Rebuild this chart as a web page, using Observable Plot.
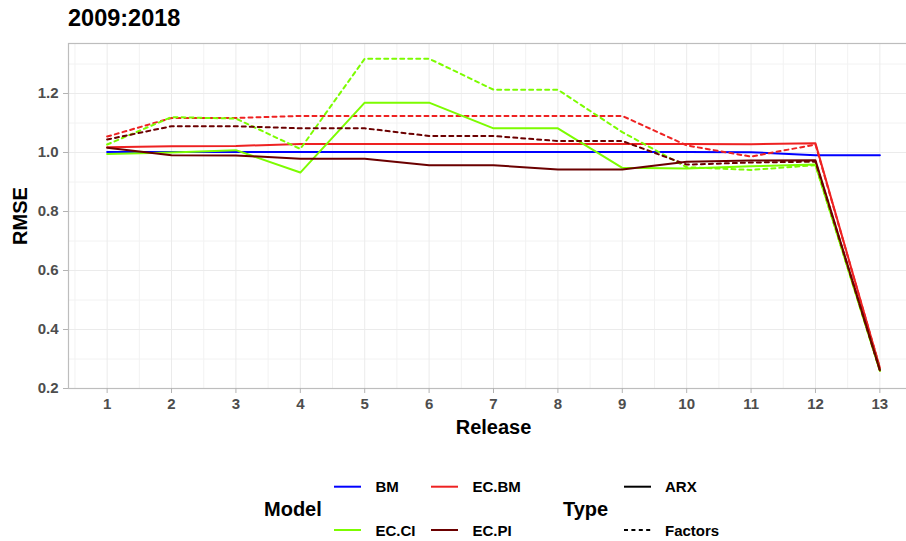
<!DOCTYPE html>
<html>
<head>
<meta charset="utf-8">
<script src="https://cdn.jsdelivr.net/npm/d3@7"></script>
<script src="https://cdn.jsdelivr.net/npm/@observablehq/plot@0.6"></script>
<style>
  body { margin: 0; background: #fff; }
  #wrap { position: relative; width: 906px; height: 541px; overflow: hidden;
          font-family: "Liberation Sans", Arial, Helvetica, sans-serif; }
  #title { position: absolute; left: 68px; top: 7px; font-size: 23.5px; line-height: 23.5px;
           font-weight: bold; color: #000; }
  #chart { position: absolute; left: 0; top: 36px; }
  #legend { position: absolute; left: 0; top: 445px; }
  g[aria-label="x-axis tick label"], g[aria-label="y-axis tick label"] {
    font-size: 15px; font-weight: bold; fill: #4d4d4d;
  }
  g[aria-label="x-axis label"], g[aria-label="y-axis label"] {
    font-size: 20px; font-weight: bold; fill: #000;
  }
</style>
</head>
<body>
<div id="wrap">
  <div id="title">2009:2018</div>
  <div id="chart"></div>
  <svg id="legend" width="906" height="96"></svg>
</div>
<script>
// Forecast releases on the x axis
const releases = [1, 2, 3, 4, 5, 6, 7, 8, 9, 10, 11, 12, 13];

// RMSE by release, one array per model / type combination
const bmArx       = [1.002, 1.002, 1.002, 1.002, 1.002, 1.002, 1.002, 1.002, 1.002, 1.002, 1.001, 0.991, 0.991];
const ecbmArx     = [1.018, 1.021, 1.022, 1.029, 1.029, 1.029, 1.029, 1.029, 1.029, 1.029, 1.028, 1.031, 0.270];
const ecbmFactors = [1.054, 1.117, 1.117, 1.124, 1.124, 1.124, 1.124, 1.124, 1.124, 1.024, 0.986, 1.027, 0.270];
const ecciArx     = [0.995, 1.000, 1.008, 0.932, 1.169, 1.169, 1.082, 1.082, 0.948, 0.946, 0.953, 0.959, 0.260];
const ecciFactors = [1.027, 1.120, 1.115, 1.012, 1.318, 1.318, 1.213, 1.213, 1.069, 0.950, 0.941, 0.957, 0.260];
const ecpiArx     = [1.016, 0.991, 0.990, 0.979, 0.979, 0.957, 0.957, 0.942, 0.942, 0.969, 0.973, 0.974, 0.262];
const ecpiFactors = [1.044, 1.089, 1.089, 1.082, 1.082, 1.056, 1.056, 1.039, 1.039, 0.959, 0.966, 0.969, 0.262];

// Legend categories
const modelNames = ["BM", "EC.BM", "EC.CI", "EC.PI"];
const modelColors = ["#0000ff", "#ee2222", "#7cfc00", "#6b0000"];
const typeNames = ["ARX", "Factors"];
const typeDashes = [null, "4,4"];

// Axis ticks and grid positions
const yTicks = [0.2, 0.4, 0.6, 0.8, 1.0, 1.2];
const yMinor = [0.3, 0.5, 0.7, 0.9, 1.1, 1.3];
const xMinor = [0.5, 1.5, 2.5, 3.5, 4.5, 5.5, 6.5, 7.5, 8.5, 9.5, 10.5, 11.5, 12.5, 13.5];

const series = [
  {model: "BM",    type: "ARX",     values: bmArx},
  {model: "EC.BM", type: "ARX",     values: ecbmArx},
  {model: "EC.BM", type: "Factors", values: ecbmFactors},
  {model: "EC.CI", type: "ARX",     values: ecciArx},
  {model: "EC.CI", type: "Factors", values: ecciFactors},
  {model: "EC.PI", type: "ARX",     values: ecpiArx},
  {model: "EC.PI", type: "Factors", values: ecpiFactors}
];

const rows = series.flatMap(s =>
  s.values.map((v, i) => ({release: releases[i], rmse: v, model: s.model, type: s.type}))
);

const lineMarks = series.map(s =>
  Plot.line(rows.filter(d => d.model === s.model && d.type === s.type), {
    x: "release", y: "rmse", stroke: "model",
    strokeWidth: 2,
    strokeDasharray: typeDashes[typeNames.indexOf(s.type)] ?? undefined
  })
);

const chart = Plot.plot({
  width: 906,
  height: 409,
  marginLeft: 68,
  marginRight: -12,
  marginTop: 7,
  marginBottom: 57,
  style: {fontFamily: '"Liberation Sans", Arial, Helvetica, sans-serif', background: "transparent", overflow: "visible"},
  x: {domain: [0.4, 13.6]},
  y: {domain: [0.2, 1.3695]},
  color: {domain: modelNames, range: modelColors},
  marks: [
    Plot.ruleY(yMinor, {stroke: "#f2f2f2", strokeWidth: 1}),
    Plot.ruleX(xMinor, {stroke: "#f2f2f2", strokeWidth: 1}),
    Plot.ruleY(yTicks, {stroke: "#ebebeb", strokeWidth: 1}),
    Plot.ruleX(releases, {stroke: "#ebebeb", strokeWidth: 1}),
    Plot.frame({stroke: "#bdbdbd", strokeWidth: 1.2}),
    Plot.axisX({ticks: releases, tickFormat: d => String(d), tickSize: 5, tickPadding: 5,
                stroke: "#b3b3b3", label: "Release", labelAnchor: "center", labelOffset: 45, labelArrow: "none"}),
    Plot.axisY({ticks: yTicks, tickFormat: d => d.toFixed(1), tickSize: 5, tickPadding: 5,
                stroke: "#b3b3b3", label: "RMSE", labelAnchor: "center", labelOffset: 56, labelArrow: "none"}),
    ...lineMarks
  ]
});
document.getElementById("chart").appendChild(chart);

// Legend: Model colours and Type line styles
const leg = d3.select("#legend");
const font = '"Liberation Sans", Arial, Helvetica, sans-serif';
leg.append("text").attr("x", 264).attr("y", 71).text("Model")
  .attr("font-family", font).attr("font-size", 20).attr("font-weight", "bold").attr("fill", "#000");
const colX = [334, 431];
const rowY = [41.7, 85];
modelNames.forEach((name, i) => {
  const cx = colX[i % 2], cy = rowY[Math.floor(i / 2)];
  leg.append("line").attr("x1", cx).attr("x2", cx + 27).attr("y1", cy).attr("y2", cy)
    .attr("stroke", modelColors[i]).attr("stroke-width", 2);
  leg.append("text").attr("x", cx + 41.5).attr("y", cy + 5.5).text(name)
    .attr("font-family", font).attr("font-size", 15).attr("font-weight", "bold").attr("fill", "#000");
});
leg.append("text").attr("x", 563).attr("y", 71).text("Type")
  .attr("font-family", font).attr("font-size", 20).attr("font-weight", "bold").attr("fill", "#000");
typeNames.forEach((name, i) => {
  const cx = 624, cy = rowY[i];
  const ln = leg.append("line").attr("x1", cx).attr("x2", cx + 27).attr("y1", cy).attr("y2", cy)
    .attr("stroke", "#000").attr("stroke-width", 2);
  if (typeDashes[i]) ln.attr("stroke-dasharray", "4,3.4");
  leg.append("text").attr("x", cx + 41).attr("y", cy + 5.5).text(name)
    .attr("font-family", font).attr("font-size", 15).attr("font-weight", "bold").attr("fill", "#000");
});
</script>
</body>
</html>
